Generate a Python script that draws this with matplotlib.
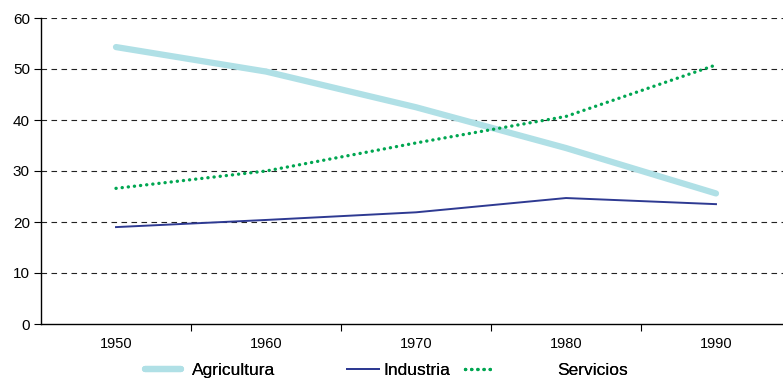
import numpy as np
import matplotlib.pyplot as plt

plt.rcParams['font.family'] = ['Liberation Sans', 'DejaVu Sans']

years = ['1950', '1960', '1970', '1980', '1990']
agricultura = [54.3, 49.5, 42.5, 34.5, 25.6]
industria = [19.0, 20.4, 21.9, 24.7, 23.5]
servicios = [26.6, 30.0, 35.5, 40.7, 50.8]

fig = plt.figure(figsize=(7.83, 3.8), dpi=100)
ax = fig.add_axes([41 / 783, 1 - 324 / 380, 750 / 783, 306 / 380])

x = np.arange(len(years))
l_agr, = ax.plot(x, agricultura, color='#b0e0e6', lw=4.5, solid_capstyle='round')
l_ind, = ax.plot(x, industria, color='#2e3a92', lw=1.4)
l_ser, = ax.plot(x, servicios, color='#00a651', lw=2.4, linestyle=(0, (0.05, 1.8)),
                 dash_capstyle='round')

ax.set_xlim(-0.5, 4.5)
ax.set_ylim(0, 60)
ax.set_yticks(range(0, 61, 10))
ax.set_xticks(x)
ax.set_xticklabels(years)
ax.set_xticks(np.arange(0.5, 4.5, 1), minor=True)
ax.tick_params(axis='x', which='major', length=0, pad=9, labelsize=10.5)
ax.tick_params(axis='x', which='minor', length=5, direction='out', width=0.8)
ax.tick_params(axis='y', length=5, direction='out', width=0.8, labelsize=11, pad=3)

for y in range(10, 61, 10):
    ax.axhline(y, color='#222222', lw=0.8, linestyle=(0, (5, 4)), zorder=0)

for s in ['top', 'right']:
    ax.spines[s].set_visible(False)
ax.spines['left'].set_linewidth(1)
ax.spines['bottom'].set_linewidth(1)

# legend entries placed one by one, like the original
entries = [(l_agr, 'Agricultura', 145, 2.1, 0.6),
           (l_ind, 'Industria', 347, 1.85, 0.25),
           (l_ser, 'Servicios', 465, 1.7, 3.6)]
for h, name, xpix, hl, pad in entries:
    leg = fig.legend([h], [name], loc='center left',
                     bbox_to_anchor=(xpix / 783, 1 - 370 / 380),
                     frameon=False, fontsize=12.5, handlelength=hl,
                     handletextpad=pad, borderpad=0, borderaxespad=0)
    fig.add_artist(leg)

fig.savefig('out.png', dpi=100)
